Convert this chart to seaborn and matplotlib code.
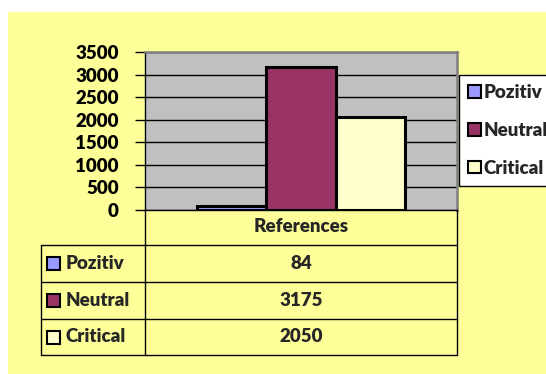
import matplotlib
matplotlib.use("Agg")
import matplotlib.pyplot as plt
import seaborn as sns
import pandas as pd
from matplotlib.patches import Rectangle
from matplotlib.lines import Line2D

# Data
categories = ["Pozitiv", "Neutral", "Critical"]
values = [84, 3175, 2050]
group = "References"
colors = ["#9999FF", "#993366", "#FFFFCC"]
yticks = [0, 500, 1000, 1500, 2000, 2500, 3000, 3500]

W, H = 546, 374
sns.set_theme(style="white")
plt.rcParams["font.family"] = ["Lato", "DejaVu Sans"]
plt.rcParams["font.weight"] = "heavy"
FS = 13.5
FW = "heavy"

fig = plt.figure(figsize=(W / 100, H / 100), dpi=100, facecolor="white")


def fx(px):
    return px / W


def fy(py):
    return 1 - py / H


# yellow chart background
fig.patches.append(Rectangle((fx(8), 0), 1 - fx(8), fy(12), transform=fig.transFigure,
                             facecolor="#FFFF99", edgecolor="none", zorder=-10))

ax = fig.add_axes([fx(145), fy(210), fx(457) - fx(145), fy(52) - fy(210)])
df = pd.DataFrame({"group": [group] * len(categories), "series": categories, "value": values})
sns.barplot(data=df, x="group", y="value", hue="series", hue_order=categories,
            palette=colors, width=208 / 312, edgecolor="black", linewidth=2.2,
            saturation=1, ax=ax, legend=False)

ax.set_facecolor("#C0C0C0")
ax.set_xlim(-0.5, 0.5)
ax.set_ylim(0, 3500)
ax.set_yticks(yticks)
ax.set_yticklabels([str(t) for t in yticks], fontsize=FS, fontweight=FW, color="black")
ax.set_xticks([])
ax.set_xlabel("")
ax.set_ylabel("")
ax.yaxis.grid(True, color="black", linewidth=1)
ax.set_axisbelow(True)
ax.tick_params(axis="y", left=True, length=7, width=1, color="black", pad=12)
for side in ["top", "right"]:
    ax.spines[side].set_color("#808080")
    ax.spines[side].set_linewidth(1.8)
for side in ["left", "bottom"]:
    ax.spines[side].set_color("black")
    ax.spines[side].set_linewidth(1)

# legend
handles = [Rectangle((0, 0), 1, 1, facecolor=c, edgecolor="black", linewidth=1.5) for c in colors]
leg = fig.legend(handles=handles, labels=categories, loc="upper left",
                 bbox_to_anchor=(fx(459), fy(75)), bbox_transform=fig.transFigure,
                 frameon=True, fancybox=False, edgecolor="black", facecolor="white",
                 framealpha=1, borderaxespad=0, borderpad=0.5,
                 handlelength=0.68, handleheight=0.68, handletextpad=0.15,
                 labelspacing=1.1, prop={"size": FS, "weight": FW})
leg.get_frame().set_linewidth(1)

# data table below the axis
tl = dict(transform=fig.transFigure, color="black", linewidth=1)
row_edges = [245, 282, 319, 355]
for y in row_edges:
    fig.add_artist(Line2D([fx(41), fx(457)], [fy(y), fy(y)], **tl))
fig.add_artist(Line2D([fx(145), fx(145)], [fy(210), fy(355)], **tl))
fig.add_artist(Line2D([fx(457), fx(457)], [fy(210), fy(355)], **tl))
fig.add_artist(Line2D([fx(41), fx(41)], [fy(245), fy(355)], **tl))

fig.text(fx(301), fy(227), group, ha="center", va="center", fontsize=FS, fontweight=FW)
for i, (name, val, col) in enumerate(zip(categories, values, colors)):
    yc = (row_edges[i] + row_edges[i + 1]) / 2
    fig.patches.append(Rectangle((fx(47), fy(yc + 6.5)), fx(13), 13 / H, transform=fig.transFigure,
                                 facecolor=col, edgecolor="black", linewidth=1.5, zorder=3))
    fig.text(fx(66), fy(yc), name, ha="left", va="center", fontsize=FS, fontweight=FW)
    fig.text(fx(301), fy(yc), str(val), ha="center", va="center", fontsize=FS, fontweight=FW)

fig.savefig("out.png", dpi=100, facecolor="white")
